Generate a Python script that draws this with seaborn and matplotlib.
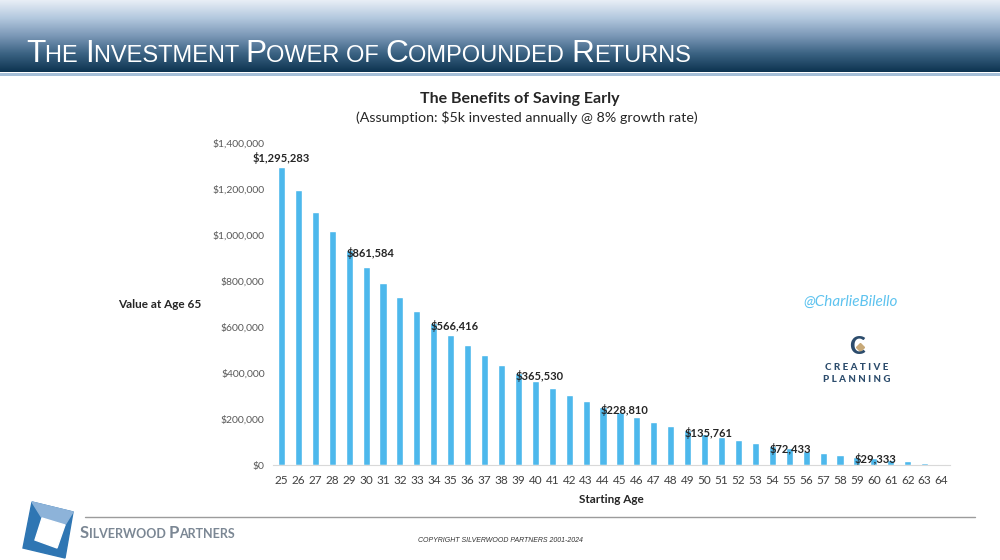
import numpy as np
import pandas as pd
import matplotlib
matplotlib.use("Agg")
import matplotlib.pyplot as plt
import seaborn as sns
from matplotlib.colors import LinearSegmentedColormap
from matplotlib.patches import Polygon, Rectangle
from matplotlib.lines import Line2D
from matplotlib.offsetbox import TextArea, HPacker, AnchoredOffsetbox

# data: value at age 65 for each starting age
starting_age = [25, 26, 27, 28, 29, 30, 31, 32, 33, 34,
                35, 36, 37, 38, 39, 40, 41, 42, 43, 44,
                45, 46, 47, 48, 49, 50, 51, 52, 53, 54,
                55, 56, 57, 58, 59, 60, 61, 62, 63, 64]
value_at_65 = [1295283, 1194706, 1101580, 1015352, 935511, 861584, 793133, 729753, 671068, 616729,
               566416, 519830, 476694, 436754, 399772, 365530, 333823, 304466, 277284, 252115,
               228810, 207231, 187251, 168751, 151621, 135761, 121074, 107476, 94886, 83227,
               72433, 62438, 53183, 44614, 36680, 29333, 22531, 16232, 10400, 5000]
labeled_ages = [25, 30, 35, 40, 45, 50, 55, 60]
y_ticks = [0, 200000, 400000, 600000, 800000, 1000000, 1200000, 1400000]

df = pd.DataFrame({"age": starting_age, "value": value_at_65})

sns.set_style("white")
plt.rcParams["font.family"] = ["Lato", "DejaVu Sans"]

W, H = 1000, 560
fig = plt.figure(figsize=(10, 5.6), dpi=100)
fig.patch.set_facecolor("white")


def fx(px):
    return px / W


def fy(py):
    return 1 - py / H


# header band with gradient
hax = fig.add_axes([0, fy(72), 1, 72 / H])
cmap = LinearSegmentedColormap.from_list("hdr", ["#e8eef6", "#b3c8de", "#7a97b6", "#3a6282", "#0d3350"])
grad = np.linspace(0, 1, 200).reshape(-1, 1)
hax.imshow(grad, aspect="auto", cmap=cmap, extent=[0, 1, 0, 1], origin="upper")
hax.axis("off")
fig.add_artist(Rectangle((0, fy(76)), 1, 3.5 / H, transform=fig.transFigure,
                         color="#a5bfd8", lw=0))

# small-caps title
big, small = 22.8, 17
pieces = [("T", big), ("HE ", small), ("I", big), ("NVESTMENT ", small), ("P", big),
          ("OWER OF ", small), ("C", big), ("OMPOUNDED ", small), ("R", big), ("ETURNS", small)]
areas = [TextArea(t, textprops=dict(color="white", fontsize=s, family="Liberation Sans"))
         for t, s in pieces]
pack = HPacker(children=areas, align="baseline", pad=0, sep=0)
fig.add_artist(AnchoredOffsetbox(loc="lower left", child=pack, frameon=False, pad=0, borderpad=0,
                                 bbox_to_anchor=(fx(26), fy(69)), bbox_transform=fig.transFigure))

# main chart
ax = fig.add_axes([fx(273), fy(465), 677 / W, 322 / H])
sns.barplot(data=df, x="age", y="value", color="#4db8ec", width=0.42, saturation=1, ax=ax)
ax.set_xlim(-0.5, 39.5)
ax.set_ylim(0, 1400000)
ax.set_yticks(y_ticks)
ax.set_yticklabels([f"${v:,.0f}" for v in y_ticks])
for s in ["top", "right", "left"]:
    ax.spines[s].set_visible(False)
ax.spines["bottom"].set_color("#d9d9d9")
ax.tick_params(axis="y", length=0, pad=6, labelsize=7.5, labelcolor="#595959")
ax.tick_params(axis="x", length=0, pad=7, labelsize=8.5, labelcolor="#404040")
ax.set_xlabel("Starting Age", fontsize=8.5, weight="bold", color="#262626", labelpad=6)
ax.set_ylabel("")

for age in labeled_ages:
    i = starting_age.index(age)
    txt = f"${value_at_65[i]:,.0f}"
    if i == 0:
        ax.annotate(txt, xy=(i, value_at_65[i]), xytext=(0, 2), textcoords="offset points",
                    ha="center", va="bottom", fontsize=8, weight="bold", color="#262626")
    else:
        ax.annotate(txt, xy=(i - 1, value_at_65[i - 1]), xytext=(-2, -2), textcoords="offset points",
                    ha="left", va="center", fontsize=8, weight="bold", color="#262626")

fig.text(fx(160), fy(305), "Value at Age 65", ha="center", va="center", fontsize=8.5,
         weight="bold", color="#262626")
fig.text(fx(520), fy(99), "The Benefits of Saving Early", ha="center", va="center",
         fontsize=11.5, weight="bold", color="#262626")
fig.text(fx(527), fy(118), "(Assumption: $5k invested annually @ 8% growth rate)", ha="center",
         va="center", fontsize=10.3, color="#262626")

# watermark and Creative Planning mark
fig.text(fx(803), fy(302), "@CharlieBilello", ha="left", va="center", fontsize=11,
         style="italic", color="#5ec3ef")
fig.text(fx(857), fy(347), "C", ha="center", va="center", fontsize=17, weight="black",
         color="#2c4c6c")
fig.add_artist(Line2D([fx(860)], [fy(347)], marker="D", markersize=4.5, color="#c8a978",
                      transform=fig.transFigure))
fig.text(fx(857), fy(368), "C R E A T I V E", ha="center", va="center", fontsize=7,
         weight="black", color="#2c4c6c")
fig.text(fx(857), fy(380), "P L A N N I N G", ha="center", va="center", fontsize=7,
         weight="black", color="#2c4c6c")

# footer
fig.add_artist(Line2D([fx(85), fx(975)], [fy(517), fy(517)], color="#9c9c9c", lw=1,
                      transform=fig.transFigure))
outer = [(32, 502), (73, 512), (65, 558), (23, 548)]
inner = [(42, 518), (65, 525), (57, 548), (35, 540)]
light = [(32, 502), (73, 512), (65, 525), (42, 518)]
fig.add_artist(Polygon([(fx(a), fy(b)) for a, b in outer], closed=True, color="#2f76b3",
                       transform=fig.transFigure))
fig.add_artist(Polygon([(fx(a), fy(b)) for a, b in light], closed=True, color="#8db3d9",
                       transform=fig.transFigure))
fig.add_artist(Polygon([(fx(a), fy(b)) for a, b in inner], closed=True, color="white",
                       transform=fig.transFigure))

sw_pieces = [("S", 12), ("ILVERWOOD ", 9), ("P", 12), ("ARTNERS", 9)]
sw_areas = [TextArea(t, textprops=dict(color="#7b8794", fontsize=s, weight="bold"))
            for t, s in sw_pieces]
sw_pack = HPacker(children=sw_areas, align="baseline", pad=0, sep=0)
fig.add_artist(AnchoredOffsetbox(loc="lower left", child=sw_pack, frameon=False, pad=0, borderpad=0,
                                 bbox_to_anchor=(fx(80), fy(541)), bbox_transform=fig.transFigure))

fig.text(fx(418), fy(540), "COPYRIGHT SILVERWOOD PARTNERS 2001-2024", ha="left", va="center",
         fontsize=5, style="italic", color="#333333", family="Liberation Sans")

fig.savefig("out.png", dpi=100)
